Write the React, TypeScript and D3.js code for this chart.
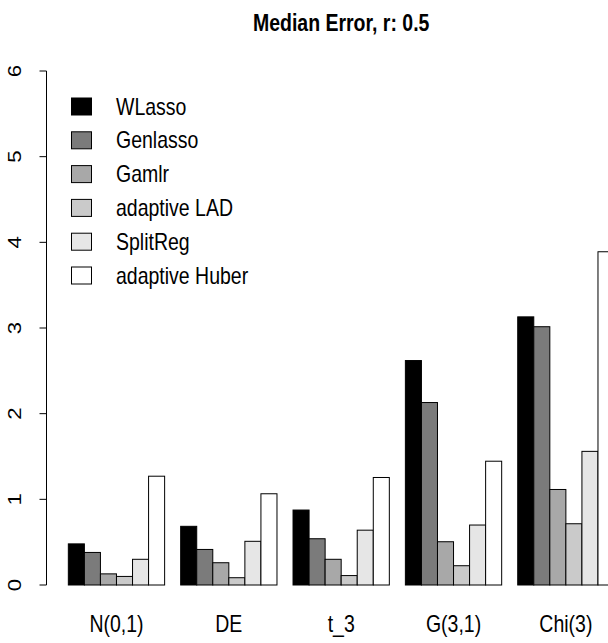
import React from "react";
import * as d3 from "d3";

// Distributions along the x axis
const categories = ["N(0,1)", "DE", "t_3", "G(3,1)", "Chi(3)"];

// Estimators (legend order) and their fills
const methods = ["WLasso", "Genlasso", "Gamlr", "adaptive LAD", "SplitReg", "adaptive Huber"];
const fills = ["#000000", "#7b7b7b", "#a8a8a8", "#cacaca", "#e6e6e6", "#ffffff"];

// Median error per estimator, one value per distribution
const wlasso = [0.48, 0.685, 0.875, 2.62, 3.13];
const genlasso = [0.38, 0.415, 0.54, 2.13, 3.015];
const gamlr = [0.13, 0.26, 0.3, 0.505, 1.115];
const adaptiveLAD = [0.1, 0.085, 0.11, 0.225, 0.715];
const splitReg = [0.3, 0.51, 0.64, 0.7, 1.56];
const adaptiveHuber = [1.27, 1.065, 1.255, 1.445, 3.89];
const seriesValues = [wlasso, genlasso, gamlr, adaptiveLAD, splitReg, adaptiveHuber];

const yTicks = [0, 1, 2, 3, 4, 5, 6];
const title = "Median Error, r: 0.5";

const W = 608;
const H = 643;
const FONT = "'Liberation Sans', Arial, Helvetica, sans-serif";
const STRETCH = 1.2;

export default function App() {
  const nGroups = categories.length;
  const nBars = methods.length;
  const groupWidth = nBars + 1; // one bar-width gap before each group
  const totalUnits = nGroups * groupWidth;
  const pad = (totalUnits - 1) * 0.04;
  const unit = 16.05;
  const x = d3
    .scaleLinear()
    .domain([1 - pad, totalUnits + pad])
    .range([46.5, 46.5 + (totalUnits - 1 + 2 * pad) * unit]);
  const y = d3.scaleLinear().domain([0, 6]).range([585, 71]);

  const bars: { g: number; i: number; v: number }[] = [];
  categories.forEach((_, g) => {
    seriesValues.forEach((vals, i) => bars.push({ g, i, v: vals[g] }));
  });
  const barLeft = (g: number, i: number) => 1 + g * groupWidth + i;

  const axisX = x(1 - pad);
  const titleX = (x.range()[0] + x.range()[1]) / 2;

  return (
    <svg
      width={W}
      height={H}
      viewBox={`0 0 ${W} ${H}`}
      style={{ position: "absolute", left: 0, top: 0, background: "#fff" }}
      fontFamily={FONT}
    >
      <rect width={W} height={H} fill="#fff" />
      <text
        transform={`translate(${titleX},31) scale(1,${STRETCH})`}
        textAnchor="middle"
        fontWeight="bold"
        fontSize={19.5}
        fill="#000"
      >
        {title}
      </text>

      {/* bars */}
      <g>
        {bars.map((b) => {
          const x0 = x(barLeft(b.g, b.i));
          const x1 = x(barLeft(b.g, b.i) + 1);
          return (
            <rect
              key={`${b.g}-${b.i}`}
              x={x0}
              y={y(b.v)}
              width={x1 - x0}
              height={y(0) - y(b.v)}
              fill={fills[b.i]}
              stroke="#000"
              strokeWidth={1}
            />
          );
        })}
      </g>

      {/* y axis */}
      <g stroke="#000" strokeWidth={1} fill="none">
        <line x1={axisX} x2={axisX} y1={y(yTicks[0])} y2={y(yTicks[yTicks.length - 1])} />
        {yTicks.map((t) => (
          <line key={t} x1={axisX} x2={axisX - 7} y1={y(t)} y2={y(t)} />
        ))}
      </g>
      <g fontSize={18.5} fill="#000">
        {yTicks.map((t) => (
          <text
            key={t}
            transform={`translate(20.5,${y(t)}) rotate(-90) scale(${STRETCH},1)`}
            textAnchor="middle"
          >
            {t}
          </text>
        ))}
      </g>

      {/* category labels */}
      <g fontSize={19.5} fill="#000">
        {categories.map((c, g) => (
          <text
            key={c}
            transform={`translate(${x(1 + g * groupWidth + nBars / 2)},632) scale(1,${STRETCH})`}
            textAnchor="middle"
          >
            {c}
          </text>
        ))}
      </g>

      {/* legend */}
      <g>
        {methods.map((m, i) => {
          const cy = 106.5 + i * 33.8;
          return (
            <g key={m}>
              <rect x={71.5} y={cy - 8.5} width={20} height={17} fill={fills[i]} stroke="#000" strokeWidth={1} />
              <text
                transform={`translate(116,${cy + 8}) scale(1,${STRETCH})`}
                fontSize={19.5}
                fill="#000"
              >
                {m}
              </text>
            </g>
          );
        })}
      </g>
    </svg>
  );
}
